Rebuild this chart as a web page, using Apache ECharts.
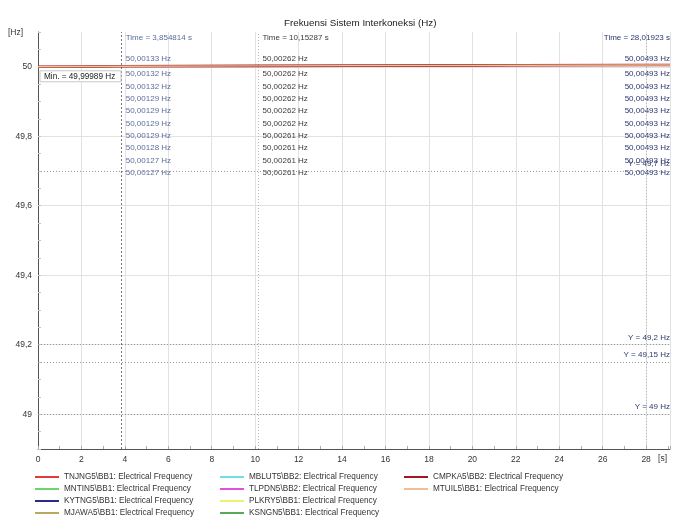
<!DOCTYPE html>
<html><head><meta charset="utf-8">
<script src="https://cdn.jsdelivr.net/npm/echarts@6/dist/echarts.min.js"></script>
<style>html,body{margin:0;padding:0;background:#fff}#c{width:678px;height:520px}</style>
</head><body><div id="c"></div>
<script>
// ---- data ----
const timeS = [0, 3.854814, 10.15287, 28.01923, 29.1];
const seriesNames = [
  'TNJNG5\\BB1: Electrical Frequency',
  'MNTIN5\\BB1: Electrical Frequency',
  'KYTNG5\\BB1: Electrical Frequency',
  'MJAWA5\\BB1: Electrical Frequency',
  'MBLUT5\\BB2: Electrical Frequency',
  'TLPDN5\\BB2: Electrical Frequency',
  'PLKRY5\\BB1: Electrical Frequency',
  'KSNGN5\\BB1: Electrical Frequency',
  'CMPKA5\\BB2: Electrical Frequency',
  'MTUIL5\\BB1: Electrical Frequency'
];
const seriesColors = ['#e03a3a','#6ad66a','#2a2a8a','#b8a860','#6ee0e0','#e050e0','#f0f070','#5aa85a','#a01828','#f0c090'];
const TNJNG5 = [49.99995, 50.00133, 50.00262, 50.00493, 50.00500];
const MNTIN5 = [49.99994, 50.00132, 50.00262, 50.00493, 50.00500];
const KYTNG5 = [49.99993, 50.00132, 50.00262, 50.00493, 50.00500];
const MJAWA5 = [49.99992, 50.00129, 50.00262, 50.00493, 50.00500];
const MBLUT5 = [49.99991, 50.00129, 50.00262, 50.00493, 50.00500];
const TLPDN5 = [49.99991, 50.00129, 50.00262, 50.00493, 50.00500];
const PLKRY5 = [49.99990, 50.00129, 50.00261, 50.00493, 50.00500];
const KSNGN5 = [49.99990, 50.00128, 50.00261, 50.00493, 50.00500];
const CMPKA5 = [49.99989, 50.00127, 50.00261, 50.00493, 50.00500];
const MTUIL5 = [49.99989, 50.00127, 50.00261, 50.00493, 50.00500];
const seriesValues = [TNJNG5, MNTIN5, KYTNG5, MJAWA5, MBLUT5, TLPDN5, PLKRY5, KSNGN5, CMPKA5, MTUIL5];
const yTickValues = [49, 49.2, 49.4, 49.6, 49.8, 50];
const refLines = [49.7, 49.2, 49.15, 49];
const cursorTimes = [3.854814, 10.15287, 28.01923];
const cursorIndex = [1, 2, 3];
const minValue = 49.99989;

const fmt = (v, d) => String(d == null ? v : v.toFixed(d)).replace('.', ',');
const FONT = 'Liberation Sans';

const series = seriesNames.map((n, i) => ({
  name: n, type: 'line', showSymbol: false, silent: true,
  data: timeS.map((t, k) => [t, seriesValues[i][k]]),
  itemStyle: { color: seriesColors[i] },
  lineStyle: { color: seriesColors[i], width: i === 8 ? 2.6 : (i === 9 ? 1.4 : 1.2) },
  z: i === 9 ? 6 : (i === 8 ? 5 : 3)
}));
series[0].markLine = {
  symbol: ['none', 'none'], silent: true, animation: false,
  label: { show: false },
  data: [
    { xAxis: cursorTimes[0], lineStyle: { type: [2, 2], color: '#777', width: 1 } },
    { xAxis: cursorTimes[1], lineStyle: { type: [1, 2], color: '#bbb', width: 1 } },
    { xAxis: cursorTimes[2], lineStyle: { type: [1, 2], color: '#bbb', width: 1 } }
  ].concat(refLines.map(v => ({
    yAxis: v, lineStyle: { type: [1, 2], color: '#999', width: 1 },
    label: { show: true, position: 'insideEndTop', formatter: 'Y = ' + fmt(v) + ' Hz',
      fontSize: 8, color: '#2e3a6e', fontFamily: FONT, distance: [0, 3] }
  })))
};

const legendBase = {
  orient: 'vertical', itemWidth: 24, itemHeight: 2, itemGap: 2, icon: 'rect', padding: 0,
  top: 472, selectedMode: false,
  textStyle: { fontSize: 8.2, color: '#333', lineHeight: 10, fontFamily: FONT }
};

const option = {
  animation: false,
  textStyle: { fontFamily: FONT },
  title: { text: 'Frekuensi Sistem Interkoneksi (Hz)', left: 279, top: 13,
    textStyle: { fontSize: 9.8, fontWeight: 'normal', color: '#222', fontFamily: FONT } },
  grid: { left: 38, right: 8, top: 32, bottom: 71, containLabel: false },
  legend: [
    Object.assign({}, legendBase, { left: 35, data: seriesNames.slice(0, 4) }),
    Object.assign({}, legendBase, { left: 220, data: seriesNames.slice(4, 8) }),
    Object.assign({}, legendBase, { left: 404, data: seriesNames.slice(8, 10) })
  ],
  xAxis: {
    type: 'value', min: 0, max: 29.1, interval: 2,
    axisLine: { lineStyle: { color: '#555', width: 1 } },
    axisTick: { inside: true, length: 3, lineStyle: { color: '#aaa' } },
    minorTick: { show: true, splitNumber: 2, length: 3, lineStyle: { color: '#aaa' } },
    axisLabel: { fontSize: 8.5, color: '#333', margin: 6, showMaxLabel: false },
    splitLine: { show: true, lineStyle: { color: '#e2e2e2', width: 1 } }
  },
  yAxis: [{
    type: 'value', min: 48.9, max: 50.1,
    axisLine: { show: true, lineStyle: { color: '#555', width: 1 } },
    axisTick: { show: false, customValues: yTickValues },
    axisLabel: { fontSize: 8.5, color: '#333', margin: 6, customValues: yTickValues,
      formatter: v => fmt(v) },
    splitLine: { show: true, lineStyle: { color: '#e2e2e2', width: 1 } }
  }, {
    type: 'value', min: 48.9, max: 50.1, interval: 0.05, position: 'left',
    axisLine: { show: false },
    axisTick: { show: true, inside: true, length: 3, lineStyle: { color: '#c4c4c4' } },
    axisLabel: { show: false },
    splitLine: { show: false }
  }],
  series: series
};

const chart = echarts.init(document.getElementById('c'), null, { renderer: 'canvas' });
chart.setOption(option);

const px = (x, y) => chart.convertToPixel({ xAxisIndex: 0, yAxisIndex: 0 }, [x, y]);
const g = [];
const gridRight = px(29.1, 50)[0];
const gridTop = px(0, 50.1)[1];
const valueColors = ['#5d6d9c', '#3a3a3a', '#2b3670'];
cursorTimes.forEach((t, c) => {
  const cx = px(t, 50)[0];
  const right = c === 2;
  const x = right ? gridRight : cx + 4;
  const align = right ? 'right' : 'left';
  g.push({ type: 'text', x: x, y: gridTop + 6, style: { text: 'Time = ' + fmt(t) + ' s', fontSize: 8,
    fill: valueColors[c], align: align, verticalAlign: 'middle', fontFamily: FONT } });
  seriesValues.forEach((arr, i) => {
    const yy = i === 0 ? gridTop + 27 : gridTop + 42 + (i - 1) * 12.35;
    g.push({ type: 'text', x: x, y: yy, style: { text: fmt(arr[cursorIndex[c]], 5) + ' Hz', fontSize: 8,
      fill: valueColors[c], align: align, verticalAlign: 'middle', fontFamily: FONT } });
  });
});
// Min box
const p0 = px(0, minValue);
g.push({ type: 'rect', shape: { x: p0[0] + 2, y: p0[1] + 4, width: 81, height: 11 },
  style: { fill: '#fff', stroke: '#c8c8c8', lineWidth: 1 }, z: 10 });
g.push({ type: 'text', x: p0[0] + 6, y: p0[1] + 9.5, z: 11, style: { text: 'Min. = ' + fmt(minValue) + ' Hz',
  fontSize: 8.2, fill: '#222', verticalAlign: 'middle', fontFamily: FONT } });
// axis unit labels
const pBottom = px(28, 48.9);
g.push({ type: 'text', x: 8, y: gridTop + 1, style: { text: '[Hz]', fontSize: 8.5, fill: '#333',
  verticalAlign: 'middle', fontFamily: FONT } });
g.push({ type: 'text', x: pBottom[0] + 12, y: pBottom[1] + 10, style: { text: '[s]', fontSize: 8.5, fill: '#333',
  verticalAlign: 'middle', fontFamily: FONT } });
chart.setOption({ graphic: g });
</script>
</body></html>
